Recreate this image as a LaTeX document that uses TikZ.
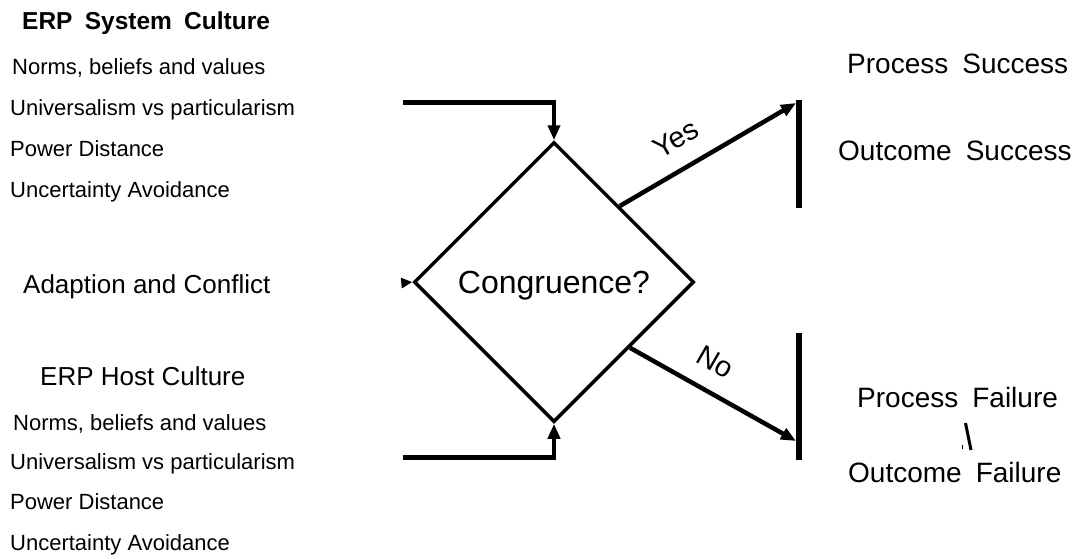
\documentclass[tikz,border=0pt]{standalone}
\usepackage{fontspec}
\setmainfont{Liberation Sans}
\newfontfamily\titlefont[WordSpace=2.6]{Liberation Sans}
\newfontfamily\widefont[WordSpace=1.8]{Liberation Sans}
\usetikzlibrary{shapes.geometric,arrows.meta,calc}

\begin{document}
\begin{tikzpicture}[x=1pt,y=-1pt,
  title/.style={anchor=base west,inner sep=0pt,font=\titlefont\bfseries\fontsize{24.5}{28}\selectfont},
  item/.style={anchor=base west,inner sep=0pt,font=\fontsize{22}{26}\selectfont},
  head/.style={anchor=base west,inner sep=0pt,font=\fontsize{26}{30}\selectfont},
  result/.style={anchor=base west,inner sep=0pt,font=\widefont\fontsize{28}{32}\selectfont},
  flow/.style={line width=4.5pt},
  arr/.style={flow,-{Triangle[length=15pt,width=12pt]}},
  smallarr/.style={flow,-{Triangle[length=11pt,width=10pt]}},
  bar/.style={line width=5.5pt},
  decision/.style={diamond,draw,line width=3.5pt,minimum width=280pt,
    minimum height=280pt,inner sep=0pt,aspect=1,text depth=0pt,
    font=\fontsize{32}{36}\selectfont},
  branch/.style={inner sep=0pt,font=\fontsize{29}{32}\selectfont},
  stroke/.style={line width=3pt}]
\useasboundingbox (0,0) rectangle (1085,558);

% ERP system culture (upper input)
\node[title] (sys) at (22,29) {ERP System Culture};
\node[item] (sys1) at (12,74) {Norms, beliefs and values};
\node[item] (sys2) at (10,115) {Universalism vs particularism};
\node[item] (sys3) at (10,156) {Power Distance};
\node[item] (sys4) at (10,197) {Uncertainty Avoidance};

% adaption (middle input)
\node[head] (adapt) at (23,293) {Adaption and Conflict};

% ERP host culture (lower input)
\node[head] (host) at (40,385) {ERP Host Culture};
\node[item] (host1) at (13,430) {Norms, beliefs and values};
\node[item] (host2) at (10,469) {Universalism vs particularism};
\node[item] (host3) at (10,509) {Power Distance};
\node[item] (host4) at (10,550) {Uncertainty Avoidance};

% decision
\node[decision] (cong) at (554,282) {Congruence?};

% inputs into the decision
\coordinate (inTop) at (403,102.5);
\coordinate (inMid) at (402,283);
\coordinate (inBot) at (403,457.5);
\draw[arr] (inTop) -| (cong.north);
\draw[arr] (inBot) -| (cong.south);
\draw[smallarr] (inMid) -- (cong.west);

% outcome brackets
\coordinate (yesTop) at (799,100);
\coordinate (yesBot) at (799,208);
\coordinate (noTop) at (799,333);
\coordinate (noBot) at (799,460);
\draw[bar] (yesTop) -- (yesBot);
\draw[bar] (noTop) -- (noBot);

% branches
\coordinate (yesEnd) at (796,103);
\coordinate (noEnd) at (796,441);
\draw[arr] ($(cong.north)!0.464!(cong.east)$) -- (yesEnd);
\draw[arr] ($(cong.east)!0.464!(cong.south)$) -- (noEnd);
\node[branch,rotate=30] (yes) at (676,139) {Yes};
\node[branch,rotate=-30] (no) at (715,362) {No};

% results
\node[result] (ps) at (847,73) {Process Success};
\node[result] (os) at (838,160) {Outcome Success};
\node[result] (pf) at (857,407) {Process Failure};
\node[result] (of) at (848,482) {Outcome Failure};

% stray marks between the failure labels
\coordinate (m1) at (965.5,423);
\coordinate (m2) at (971,450);
\draw[stroke] (m1) -- (m2);
\coordinate (t1) at (962,445);
\coordinate (t2) at (962,448.5);
\draw[line width=0.8pt] (t1) -- (t2);
\end{tikzpicture}
\end{document}
